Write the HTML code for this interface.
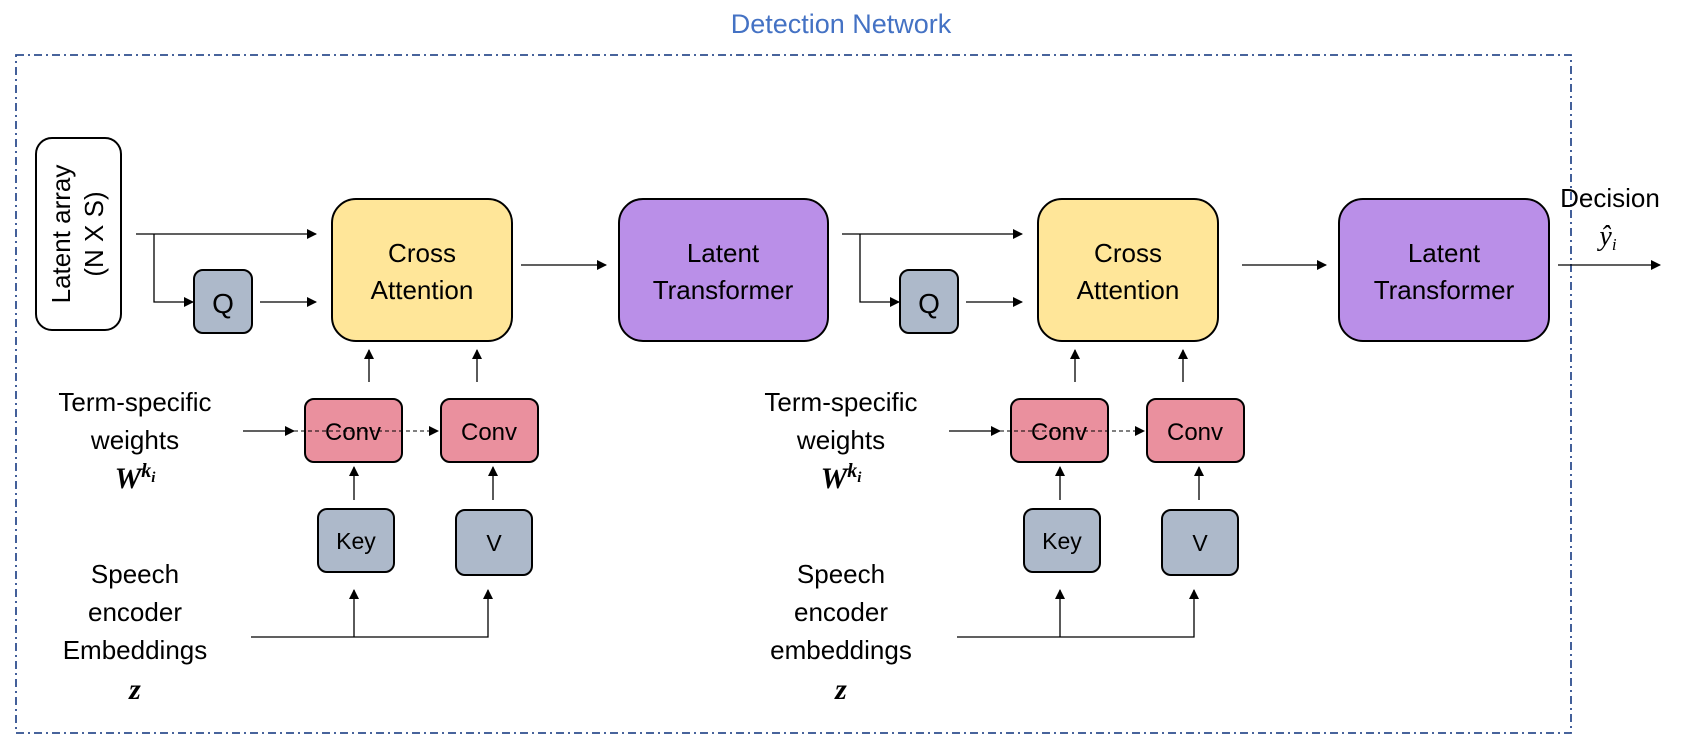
<!DOCTYPE html>
<html><head><meta charset="utf-8"><style>
html,body{margin:0;padding:0;background:#fff;}
svg{display:block;font-family:"Liberation Sans",sans-serif;}
</style></head><body>
<svg width="1683" height="747" viewBox="0 0 1683 747" xmlns="http://www.w3.org/2000/svg">
<defs>
<marker id="a" markerWidth="10" markerHeight="10" refX="9" refY="5" orient="auto" markerUnits="userSpaceOnUse"><path d="M0,0 L10,5 L0,10 z" fill="#000"/></marker>
</defs>
<text x="841" y="33" font-size="27" fill="#4472C4" text-anchor="middle">Detection Network</text>
<rect x="16" y="55" width="1555" height="678" fill="none" stroke="#2F4F8F" stroke-width="1.8" stroke-dasharray="8,4,2,4"/>
<!-- latent array -->
<rect x="36" y="138" width="85" height="192" rx="16" fill="#fff" stroke="#000" stroke-width="2"/>
<g transform="translate(78,234) rotate(-90)" font-size="26" text-anchor="middle">
<text x="0" y="-8">Latent array</text><text x="0" y="25">(N X S)</text></g>
<g id="grp">
<g stroke="#000" stroke-width="1.3" fill="none">
<line x1="136" y1="234" x2="316" y2="234" marker-end="url(#a)"/>
<polyline points="154,234 154,302 193,302" marker-end="url(#a)"/>
<line x1="260" y1="302" x2="316" y2="302" marker-end="url(#a)"/>
<line x1="369" y1="382" x2="369" y2="350" marker-end="url(#a)"/>
<line x1="477" y1="382" x2="477" y2="350" marker-end="url(#a)"/>
<line x1="243" y1="431" x2="294" y2="431" marker-end="url(#a)"/>
<line x1="354" y1="500" x2="354" y2="467" marker-end="url(#a)"/>
<line x1="493" y1="500" x2="493" y2="467" marker-end="url(#a)"/>
<polyline points="251,637 488,637 488,590" marker-end="url(#a)"/>
<line x1="354" y1="637" x2="354" y2="590" marker-end="url(#a)"/>
</g>
<rect x="194" y="270" width="58" height="63" rx="9" fill="#ADB9CA" stroke="#000" stroke-width="2"/>
<text x="223" y="313" font-size="28" text-anchor="middle">Q</text>
<rect x="332" y="199" width="180" height="142" rx="24" fill="#FFE699" stroke="#000" stroke-width="2"/>
<text x="422" y="262" font-size="26" text-anchor="middle">Cross</text>
<text x="422" y="299" font-size="26" text-anchor="middle">Attention</text>
<rect x="305" y="399" width="97" height="63" rx="9" fill="#EA909E" stroke="#000" stroke-width="2"/>
<text x="353" y="440" font-size="24" text-anchor="middle">Conv</text>
<rect x="441" y="399" width="97" height="63" rx="9" fill="#EA909E" stroke="#000" stroke-width="2"/>
<text x="489" y="440" font-size="24" text-anchor="middle">Conv</text>
<line x1="294" y1="431" x2="438" y2="431" stroke="#000" stroke-width="1" stroke-dasharray="4,3" marker-end="url(#a)"/>
<rect x="318" y="509" width="76" height="63" rx="9" fill="#ADB9CA" stroke="#000" stroke-width="2"/>
<text x="356" y="549" font-size="23" text-anchor="middle">Key</text>
<rect x="456" y="510" width="76" height="65" rx="9" fill="#ADB9CA" stroke="#000" stroke-width="2"/>
<text x="494" y="551" font-size="23" text-anchor="middle">V</text>
</g>
<use href="#grp" x="706" y="0"/>
<!-- left labels -->
<g font-size="26" text-anchor="middle">
<text x="135" y="411">Term-specific</text>
<text x="135" y="449">weights</text>
<text x="135" y="488" font-size="30" font-family="Liberation Serif,serif" font-weight="bold" font-style="italic">W<tspan font-size="20" dy="-11">k</tspan><tspan font-size="15" dy="5">i</tspan></text>
<text x="135" y="583">Speech</text>
<text x="135" y="621">encoder</text>
<text x="135" y="659">Embeddings</text>
<text x="135" y="699" font-size="30" font-family="Liberation Serif,serif" font-weight="bold" font-style="italic">z</text>
<text x="841" y="411">Term-specific</text>
<text x="841" y="449">weights</text>
<text x="841" y="488" font-size="30" font-family="Liberation Serif,serif" font-weight="bold" font-style="italic">W<tspan font-size="20" dy="-11">k</tspan><tspan font-size="15" dy="5">i</tspan></text>
<text x="841" y="583">Speech</text>
<text x="841" y="621">encoder</text>
<text x="841" y="659">embeddings</text>
<text x="841" y="699" font-size="30" font-family="Liberation Serif,serif" font-weight="bold" font-style="italic">z</text>
</g>
<!-- transformers -->
<g stroke="#000" stroke-width="1.3">
<line x1="521" y1="265" x2="606" y2="265" marker-end="url(#a)"/>
<line x1="1242" y1="265" x2="1326" y2="265" marker-end="url(#a)"/>
<line x1="1558" y1="265" x2="1660" y2="265" marker-end="url(#a)"/>
</g>
<rect x="619" y="199" width="209" height="142" rx="24" fill="#BA8FE8" stroke="#000" stroke-width="2"/>
<text x="723" y="262" font-size="26" text-anchor="middle">Latent</text>
<text x="723" y="299" font-size="26" text-anchor="middle">Transformer</text>
<rect x="1339" y="199" width="210" height="142" rx="24" fill="#BA8FE8" stroke="#000" stroke-width="2"/>
<text x="1444" y="262" font-size="26" text-anchor="middle">Latent</text>
<text x="1444" y="299" font-size="26" text-anchor="middle">Transformer</text>
<text x="1610" y="207" font-size="26" text-anchor="middle">Decision</text>
<text x="1608" y="245" font-size="28" text-anchor="middle" font-family="Liberation Serif,serif" font-style="italic">ŷ<tspan font-size="17" dy="5">i</tspan></text>
</svg>
</body></html>
